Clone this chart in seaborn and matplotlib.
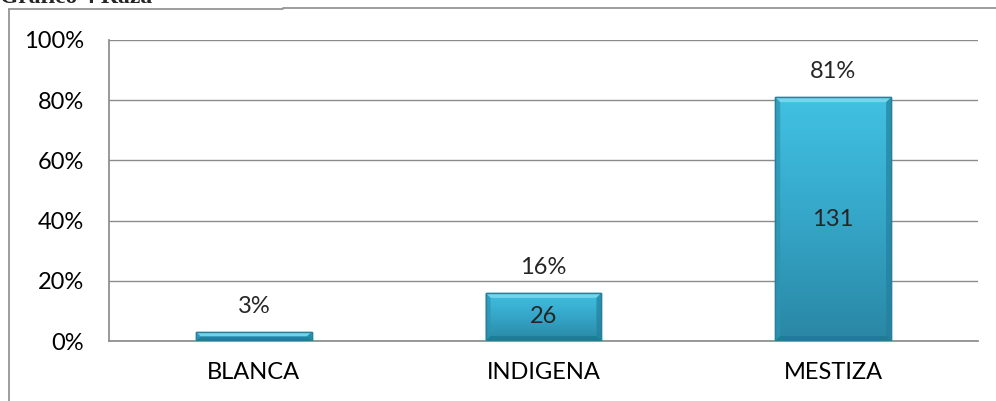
import matplotlib
matplotlib.use("Agg")
import matplotlib.pyplot as plt
import seaborn as sns
import numpy as np
import pandas as pd
from matplotlib.patches import Polygon
from matplotlib.lines import Line2D
from matplotlib.colors import LinearSegmentedColormap

categories = ["BLANCA", "INDIGENA", "MESTIZA"]
percentages = [3, 16, 81]
counts = ["", "26", "131"]
y_ticks = [0, 20, 40, 60, 80, 100]
title_text = "Gráfico 4 Raza"

sns.set_theme(style="white")
plt.rcParams["font.family"] = ["Lato", "DejaVu Sans"]

df = pd.DataFrame({"cat": categories, "pct": percentages})

fig = plt.figure(figsize=(9.96, 4.01), dpi=100)
ax = fig.add_axes([109/996, 1-341/401, (978-109)/996, (341-40)/401])

sns.barplot(data=df, x="cat", y="pct", ax=ax, color="#3AB4D6", width=0.4,
            edgecolor="#2A86A2", linewidth=1.0, saturation=1, zorder=3)

ax.set_xlim(-0.5, 2.5)
ax.set_ylim(0, 100)

# gradient + bevel styling on each bar
grad = np.linspace(0, 1, 256).reshape(-1, 1)
cmap = LinearSegmentedColormap.from_list("b", ["#2A87A4", "#35A6C8", "#41C1E2"])
bx = 5 / 290.0   # bevel width in x data units (~5 px)
by = 5 / 3.01    # bevel height in y data units (~5 px)
for p in list(ax.patches):
    x0, y0 = p.get_x(), p.get_y()
    w, h = p.get_width(), p.get_height()
    im = ax.imshow(grad, extent=[x0, x0 + w, y0, y0 + h], origin="lower",
                   aspect="auto", cmap=cmap, zorder=3.5)
    im.set_clip_path(p)
    dy = min(by, h / 2.0)
    x1, y1 = x0 + w, y0 + h
    ax.add_patch(Polygon([(x0, y1), (x1, y1), (x1 - bx, y1 - dy), (x0 + bx, y1 - dy)],
                         closed=True, facecolor="#7DDAF0", edgecolor="none",
                         alpha=0.85, zorder=3.8))
    ax.add_patch(Polygon([(x0, y0), (x0, y1), (x0 + bx, y1 - dy), (x0 + bx, y0 + dy)],
                         closed=True, facecolor="#2C94B3", edgecolor="none",
                         alpha=0.7, zorder=3.8))
    ax.add_patch(Polygon([(x1, y0), (x1, y1), (x1 - bx, y1 - dy), (x1 - bx, y0 + dy)],
                         closed=True, facecolor="#23809D", edgecolor="none",
                         alpha=0.7, zorder=3.8))
    ax.add_patch(Polygon([(x0, y0), (x1, y0), (x1 - bx, y0 + dy), (x0 + bx, y0 + dy)],
                         closed=True, facecolor="#1E7690", edgecolor="none",
                         alpha=0.7, zorder=3.8))
    ax.add_patch(Polygon([(x0, y0), (x1, y0), (x1, y1), (x0, y1)], closed=True,
                         fill=False, edgecolor="#2A7F99", linewidth=1.0, zorder=4))

ax.set_yticks(y_ticks)
ax.set_yticklabels([f"{v}%" for v in y_ticks])
ax.yaxis.grid(True, color="#8C8C8C", linewidth=1.0, zorder=0)
ax.set_axisbelow(True)
ax.set_xlabel("")
ax.set_ylabel("")
for s in ["top", "right"]:
    ax.spines[s].set_visible(False)
ax.spines["left"].set_color("#8C8C8C")
ax.spines["bottom"].set_color("#8C8C8C")
ax.tick_params(axis="both", labelsize=17, colors="black", length=0)
ax.tick_params(axis="x", pad=15)
ax.tick_params(axis="y", pad=18)

for i, (v, c) in enumerate(zip(percentages, counts)):
    ax.text(i, v + 6.3, f"{v}%", ha="center", va="baseline", fontsize=17, zorder=5)
    if c:
        ax.text(i, v / 2, c, ha="center", va="center", fontsize=17, zorder=5)

# outer chart border
fig.add_artist(Line2D([8.5/996, 8.5/996], [0, 1-9/401], color="#8C8C8C", lw=1.2))
fig.add_artist(Line2D([8.5/996, 283/996], [1-9/401, 1-9/401], color="#8C8C8C", lw=1.2))
fig.add_artist(Line2D([283/996, 1.0], [1-8/401, 1-8/401], color="#8C8C8C", lw=1.2))

# title, cut off at the top edge as in the reference
fig.text(0.0, 1-3/401, title_text, fontsize=17, fontweight="bold",
         family=["Liberation Serif"], va="baseline", ha="left")

fig.savefig("out.png", dpi=100)
